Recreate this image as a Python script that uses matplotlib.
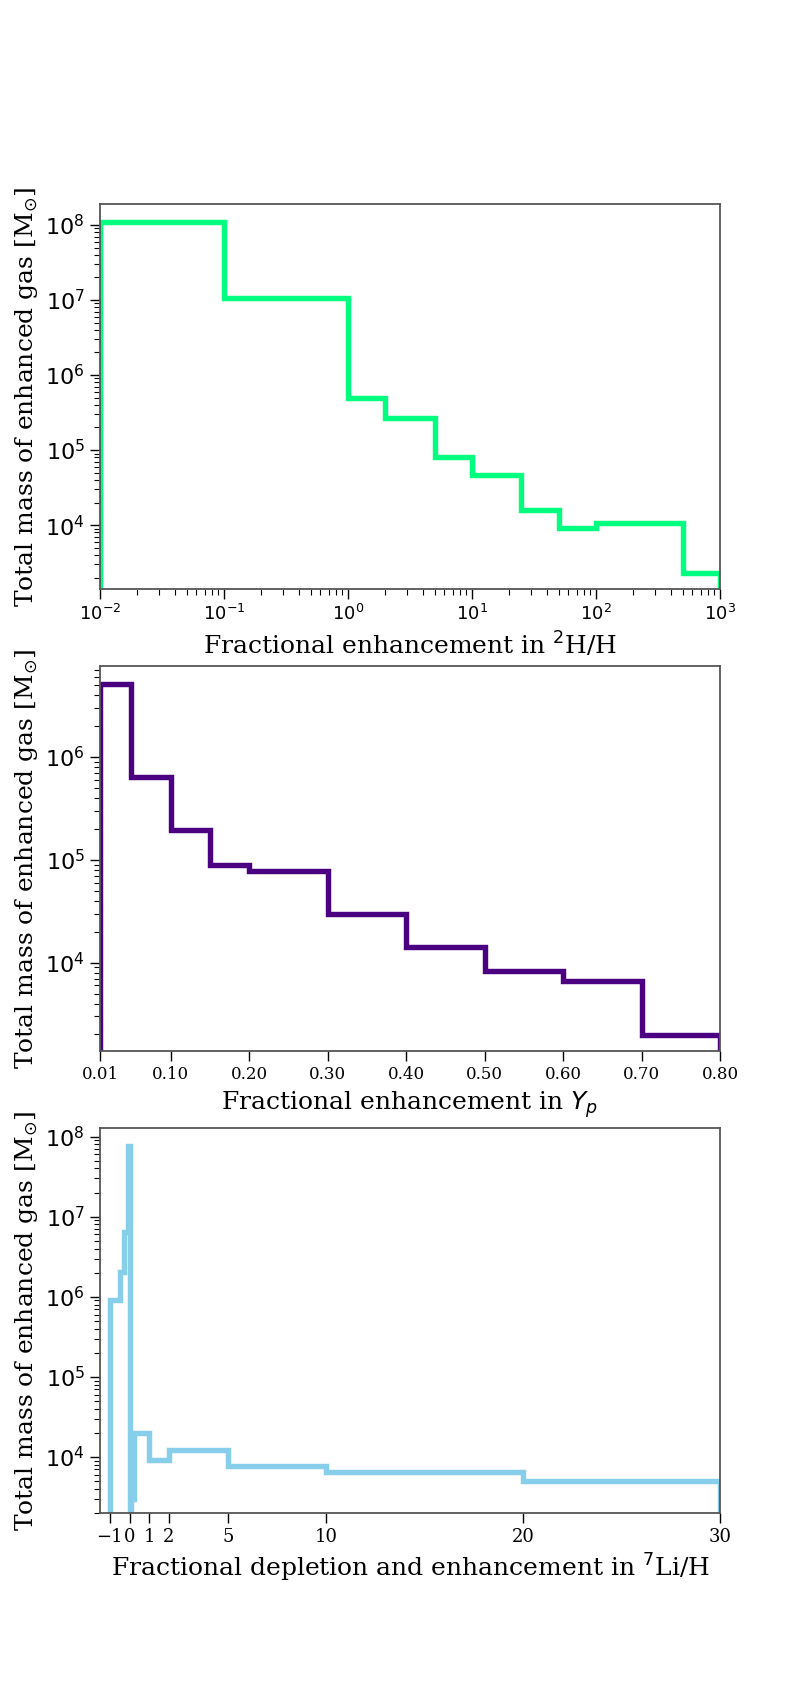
import numpy as np
import matplotlib
matplotlib.use('Agg')
import matplotlib.pyplot as plt

# ---------------- data ----------------
# Panel 1: fractional enhancement in 2H/H
d_edges = [0.01, 0.1, 1, 2, 5, 10, 25, 50, 100, 500, 1000]
d_mass = [1.08e8, 1.05e7, 4.95e5, 2.71e5, 8.1e4, 4.65e4, 1.59e4, 9.3e3, 1.07e4, 2.3e3]

# Panel 2: fractional enhancement in Yp
yp_edges = [0.01, 0.05, 0.10, 0.15, 0.20, 0.30, 0.40, 0.50, 0.60, 0.70, 0.80]
yp_mass = [5.17e6, 6.37e5, 1.97e5, 8.84e4, 7.73e4, 2.98e4, 1.43e4, 8.26e3, 6.66e3, 1.97e3]
yp_ticks = [0.01, 0.10, 0.20, 0.30, 0.40, 0.50, 0.60, 0.70, 0.80]
yp_ticklabels = ['0.01', '0.10', '0.20', '0.30', '0.40', '0.50', '0.60', '0.70', '0.80']

# Panel 3: 7Li/H depletion and enhancement
li_dep_edges = [-1, -0.5, -0.3, -0.1, 0]
li_dep_mass = [9.0e5, 2.05e6, 6.5e6, 7.7e7]
li_enh_edges = [0.05, 0.25, 1, 2, 5, 10, 20, 30]
li_enh_mass = [3.0e3, 1.97e4, 9.1e3, 1.22e4, 7.8e3, 6.5e3, 5.0e3]
li_ticks = [-1, 0, 1, 2, 5, 10, 20, 30]
li_ticklabels = ['\u22121', '0', '1', '2', '5', '10', '20', '30']

ylabel = 'Total mass of enhanced gas [M$_{\\odot}$]'
xlabels = ['Fractional enhancement in $^{2}$H/H',
           'Fractional enhancement in $Y_p$',
           'Fractional depletion and enhancement in $^{7}$Li/H']

col_d = '#00FF7F'
col_yp = '#4B0082'
col_li = '#87CEEB'
LW = 3.9
LABEL_FS = 18

fig, axes = plt.subplots(3, 1, figsize=(8, 17), dpi=100)

def style(ax):
    for s in ax.spines.values():
        s.set_color('#555555')
        s.set_linewidth(1.3)
    ax.tick_params(which='major', length=7.5, width=1.0, direction='out')
    ax.tick_params(which='minor', length=4, width=0.8, direction='out')
    ax.tick_params(axis='y', which='major', labelsize=16)
    ax.set_ylabel(ylabel, family='serif', fontsize=LABEL_FS)

# Panel 1
ax = axes[0]
ax.stairs(d_mass, d_edges, baseline=1e-3, color=col_d, lw=LW)
ax.set_xscale('log')
ax.set_yscale('log')
ax.set_xlim(0.01, 1000)
ax.set_ylim(1.41e3, 1.9e8)
ax.set_xlabel(xlabels[0], family='serif', fontsize=LABEL_FS)
style(ax)
ax.tick_params(axis='x', which='major', labelsize=13)

# Panel 2
ax = axes[1]
ax.stairs(yp_mass, yp_edges, baseline=1e-3, color=col_yp, lw=LW)
ax.set_yscale('log')
ax.set_xlim(0.01, 0.80)
ax.set_ylim(1.38e3, 7.7e6)
ax.set_xticks(yp_ticks)
ax.set_xticklabels(yp_ticklabels, family='serif', fontsize=12)
ax.set_xlabel(xlabels[1], family='serif', fontsize=LABEL_FS)
style(ax)

# Panel 3
ax = axes[2]
ax.stairs(li_dep_mass, li_dep_edges, baseline=1e-3, color=col_li, lw=LW)
ax.stairs(li_enh_mass, li_enh_edges, baseline=1e-3, color=col_li, lw=LW)
ax.set_yscale('log')
ax.set_xlim(-1.5, 30)
ax.set_ylim(2.0e3, 1.28e8)
ax.set_xticks(li_ticks)
ax.set_xticklabels(li_ticklabels, family='serif', fontsize=13)
ax.set_xlabel(xlabels[2], family='serif', fontsize=LABEL_FS)
style(ax)

fig.savefig('out.png', dpi=100)
